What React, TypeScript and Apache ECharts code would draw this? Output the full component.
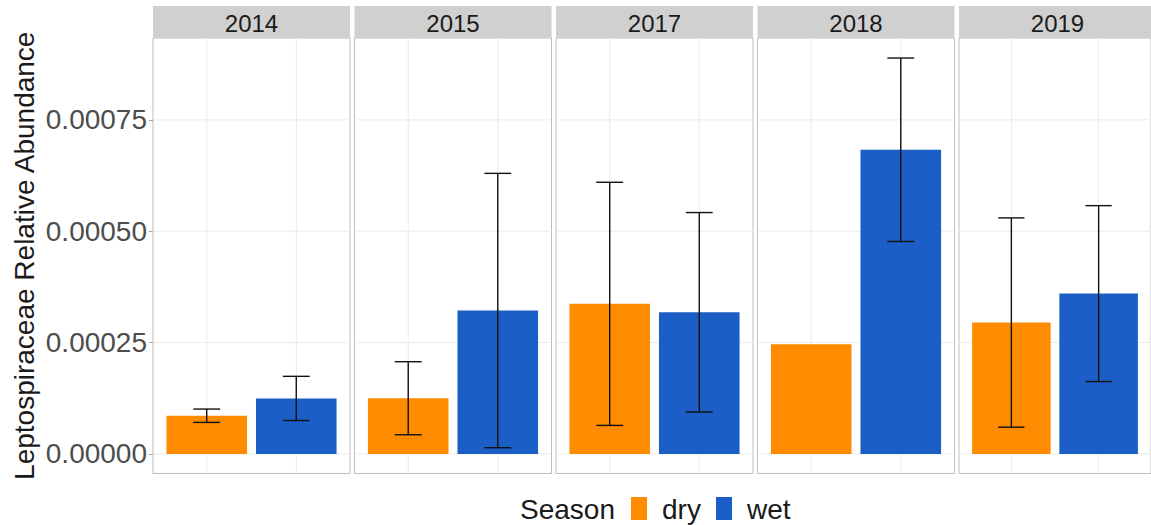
import React, { useEffect, useRef } from "react";
import * as echarts from "echarts";

// Facets (sampling years) and season-level means with standard errors
const years = ["2014", "2015", "2017", "2018", "2019"];
const seasons = ["dry", "wet"];
const dryMean = [0.0000857, 0.000125, 0.000337, 0.000246, 0.000295];
const drySE: (number | null)[] = [0.000015, 0.000082, 0.000273, null, 0.000235];
const wetMean = [0.0001246, 0.000322, 0.000318, 0.000683, 0.00036];
const wetSE: (number | null)[] = [0.0000496, 0.000308, 0.000224, 0.000206, 0.0001975];
const yBreaks = [0, 0.00025, 0.0005, 0.00075];

const seasonColors: Record<string, string> = { dry: "#FF8C00", wet: "#1B5EC6" };

const FONT = "'Liberation Sans', Arial, Helvetica, sans-serif";
const X_MIN = 0.4;
const X_MAX = 2.6;
const Y_MIN = -0.000044;
const Y_MAX = 0.000934;
const PANEL_LEFT = 153;
const PANEL_PITCH = 201.5;
const PANEL_W = 197;
const PANEL_TOP = 38;
const PANEL_H = 435.5;
const STRIP_TOP = 6;
const BAR_W = 0.9;
const CAP_W = 0.3;
const GRID_COLOR = "#EBEBEB";

function barItem(params: any, api: any) {
  const x = api.value(0);
  const y = api.value(1);
  const p0 = api.coord([x - BAR_W / 2, y]);
  const p1 = api.coord([x + BAR_W / 2, 0]);
  return {
    type: "rect",
    shape: { x: p0[0], y: p0[1], width: p1[0] - p0[0], height: p1[1] - p0[1] },
    style: api.style(),
  };
}

function errorItem(params: any, api: any) {
  const x = api.value(0);
  const m = api.value(1);
  const se = api.value(2);
  const top = api.coord([x, m + se]);
  const bot = api.coord([x, m - se]);
  const l = api.coord([x - CAP_W / 2, m])[0];
  const r = api.coord([x + CAP_W / 2, m])[0];
  const style = { stroke: "#111111", lineWidth: 1.4 };
  return {
    type: "group",
    children: [
      { type: "line", shape: { x1: top[0], y1: top[1], x2: bot[0], y2: bot[1] }, style },
      { type: "line", shape: { x1: l, y1: top[1], x2: r, y2: top[1] }, style },
      { type: "line", shape: { x1: l, y1: bot[1], x2: r, y2: bot[1] }, style },
    ],
  };
}

// horizontal panel grid line at a y break
function hGridItem(params: any, api: any) {
  const v = api.value(0);
  const a = api.coord([X_MIN, v]);
  const b = api.coord([X_MAX, v]);
  return {
    type: "line",
    shape: { x1: a[0], y1: a[1], x2: b[0], y2: b[1] },
    style: { stroke: GRID_COLOR, lineWidth: 1 },
  };
}

// vertical panel grid line at a season position
function vGridItem(params: any, api: any) {
  const x = api.value(0);
  const a = api.coord([x, Y_MIN]);
  const b = api.coord([x, Y_MAX]);
  return {
    type: "line",
    shape: { x1: a[0], y1: a[1], x2: b[0], y2: b[1] },
    style: { stroke: GRID_COLOR, lineWidth: 1 },
  };
}

export default function App() {
  const ref = useRef<HTMLDivElement>(null);

  useEffect(() => {
    if (!ref.current) return;
    const chart = echarts.init(ref.current, undefined, { renderer: "svg" });

    const grid: any[] = [];
    const xAxis: any[] = [];
    const yAxis: any[] = [];
    const series: any[] = [];
    const graphic: any[] = [];

    years.forEach((year, i) => {
      const left = PANEL_LEFT + i * PANEL_PITCH;
      grid.push({
        left,
        top: PANEL_TOP,
        width: PANEL_W,
        height: PANEL_H,
        show: true,
        backgroundColor: "#FFFFFF",
        borderColor: "#BDBDBD",
        borderWidth: 1,
        containLabel: false,
      });
      xAxis.push({ type: "value", gridIndex: i, min: X_MIN, max: X_MAX, show: false });
      yAxis.push({
        type: "value",
        gridIndex: i,
        min: Y_MIN,
        max: Y_MAX,
        splitLine: { show: false },
        axisLine: { show: false },
        axisTick: {
          show: i === 0,
          length: 4,
          lineStyle: { color: "#9E9E9E" },
          customValues: yBreaks,
        },
        axisLabel: {
          show: i === 0,
          customValues: yBreaks,
          formatter: (v: number) => v.toFixed(5),
          color: "#4D4D4D",
          fontSize: 28,
          fontFamily: FONT,
          margin: 6,
        },
        name: i === 0 ? "Leptospiraceae Relative Abundance" : "",
        nameLocation: "middle",
        nameRotate: 90,
        nameGap: 115,
        nameTextStyle: { color: "#1A1A1A", fontSize: 28, fontFamily: FONT },
      });

      // panel grid lines
      series.push({
        type: "custom",
        name: "hgrid-" + year,
        xAxisIndex: i,
        yAxisIndex: i,
        z: 1,
        silent: true,
        renderItem: hGridItem,
        data: yBreaks.map((v) => [v]),
      });
      series.push({
        type: "custom",
        name: "vgrid-" + year,
        xAxisIndex: i,
        yAxisIndex: i,
        z: 1,
        silent: true,
        renderItem: vGridItem,
        data: seasons.map((_, k) => [k + 1]),
      });

      // bars
      series.push({
        type: "custom",
        name: "dry",
        xAxisIndex: i,
        yAxisIndex: i,
        z: 2,
        itemStyle: { color: seasonColors.dry },
        renderItem: barItem,
        data: [[1, dryMean[i]]],
      });
      series.push({
        type: "custom",
        name: "wet",
        xAxisIndex: i,
        yAxisIndex: i,
        z: 2,
        itemStyle: { color: seasonColors.wet },
        renderItem: barItem,
        data: [[2, wetMean[i]]],
      });

      // error bars (mean ± SE)
      const errs: number[][] = [];
      if (drySE[i] != null) errs.push([1, dryMean[i], drySE[i] as number]);
      if (wetSE[i] != null) errs.push([2, wetMean[i], wetSE[i] as number]);
      series.push({
        type: "custom",
        name: "se-" + year,
        xAxisIndex: i,
        yAxisIndex: i,
        z: 3,
        renderItem: errorItem,
        data: errs,
      });

      // facet strip
      graphic.push({
        type: "rect",
        left,
        top: STRIP_TOP,
        shape: { width: PANEL_W, height: PANEL_TOP - STRIP_TOP },
        style: { fill: "#D0D0D0" },
        silent: true,
      });
      graphic.push({
        type: "text",
        x: left + PANEL_W / 2,
        y: (STRIP_TOP + PANEL_TOP) / 2 + 1,
        style: {
          text: year,
          fill: "#1A1A1A",
          fontSize: 24,
          fontFamily: FONT,
          align: "center",
          verticalAlign: "middle",
        },
        silent: true,
      });
    });

    // legend: title, then a key and label per season
    const LEGEND_Y = 509;
    graphic.push({
      type: "text",
      x: 520,
      y: LEGEND_Y,
      style: {
        text: "Season",
        fill: "#1A1A1A",
        fontSize: 28,
        fontFamily: FONT,
        align: "left",
        verticalAlign: "middle",
      },
      silent: true,
    });
    const keyX = [631, 716];
    seasons.forEach((s, k) => {
      graphic.push({
        type: "rect",
        x: keyX[k],
        y: LEGEND_Y - 12,
        shape: { width: 16, height: 23 },
        style: { fill: seasonColors[s] },
        silent: true,
      });
      graphic.push({
        type: "text",
        x: keyX[k] + 31,
        y: LEGEND_Y,
        style: {
          text: s,
          fill: "#1A1A1A",
          fontSize: 28,
          fontFamily: FONT,
          align: "left",
          verticalAlign: "middle",
        },
        silent: true,
      });
    });

    chart.setOption({
      animation: false,
      backgroundColor: "#FFFFFF",
      grid,
      xAxis,
      yAxis,
      series,
      graphic,
    });

    return () => chart.dispose();
  }, []);

  return (
    <div
      ref={ref}
      style={{ position: "fixed", left: 0, top: 0, width: 1151, height: 525 }}
    />
  );
}
